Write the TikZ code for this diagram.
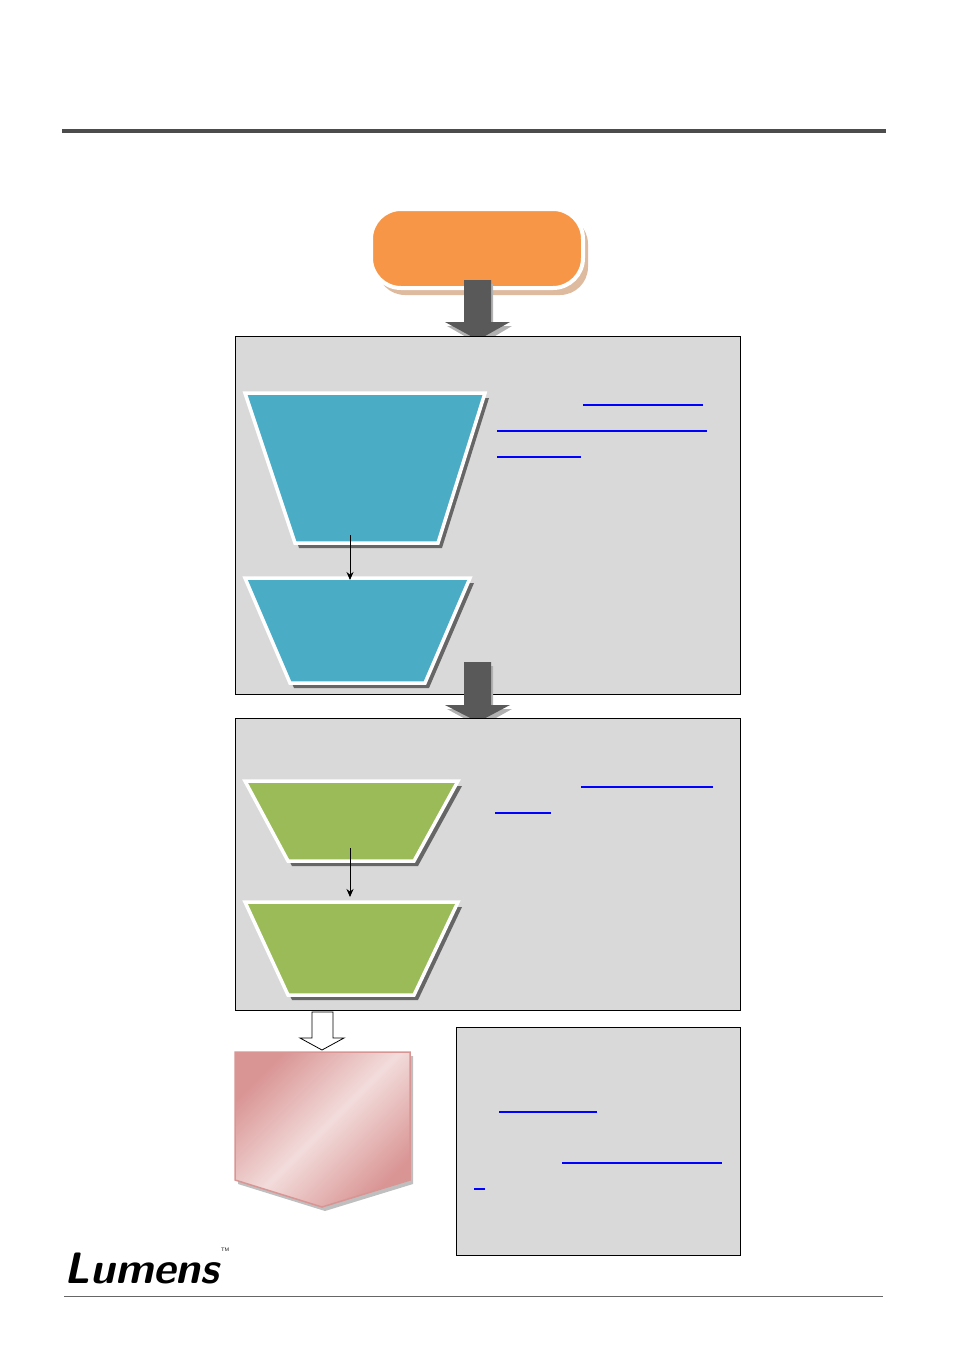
\documentclass[tikz,border=0pt]{standalone}
\usepackage{tikz}
\usetikzlibrary{calc,positioning,arrows.meta,shapes.geometric}
\definecolor{startorange}{HTML}{F79646}
\definecolor{stepblue}{HTML}{4BACC6}
\definecolor{stepgreen}{HTML}{9BBB59}
\definecolor{panelgray}{HTML}{D9D9D9}
\definecolor{linkblue}{HTML}{0000FF}
\definecolor{pinkdark}{HTML}{D99594}
\definecolor{pinklight}{HTML}{F2DCDB}
\tikzset{
  panel/.style={draw=black, fill=panelgray, line width=0.8pt},
  trap/.style={line width=3.5pt, draw=white, line join=miter},
  trapshadow/.style={fill=gray!80!black, draw=none, shift={(4,5)}},
  bigarrow/.style={fill=black!65, draw=none},
  link/.style={draw=linkblue, line width=1.3pt},
  flowarrow/.style={-{Stealth[length=8pt,width=7pt]}, line width=0.9pt}
}
\begin{document}
\begin{tikzpicture}[x=1pt,y=-1pt]
  \useasboundingbox (0,0) rectangle (954,1354);

  % header rule
  \draw[black!70, line width=4pt] (62,131) -- (886,131);

  % start terminal
  \fill[startorange!60!gray!60, rounded corners=28pt] (377,216) rectangle (588,295);
  \draw[line width=4pt, white, fill=startorange, rounded corners=30pt] (371,209) rectangle (583,288);
  \node (start) at (477,248) {};

  % arrow 1
  \fill[gray!60] (447,326) -- (466,326) -- (466,284) -- (493,284) -- (493,326) -- (512,326) -- (480,345) -- cycle;
  \fill[bigarrow] (445,322) -- (464,322) -- (464,280) -- (491,280) -- (491,322) -- (510,322) -- (478,340) -- cycle;

  % panel 1
  \node[panel, minimum width=505pt, minimum height=358pt, anchor=north west] (panelA) at (235,336) {};
  \fill[trapshadow] (245,393) -- (485,393) -- (438,543) -- (295,543) -- cycle;
  \draw[trap, fill=stepblue] (245,393) -- (485,393) -- (438,543) -- (295,543) -- cycle;
  \fill[trapshadow] (245,578) -- (470,578) -- (425,683) -- (290,683) -- cycle;
  \draw[trap, fill=stepblue] (245,578) -- (470,578) -- (425,683) -- (290,683) -- cycle;
  \coordinate (b1) at (350,535);
  \coordinate (b2) at (350,580);
  \draw[flowarrow] (b1) -- (b2);
  \draw[link] (583,405) -- (703,405);
  \draw[link] (497,431) -- (707,431);
  \draw[link] (497,457) -- (581,457);

  % arrow 2
  \fill[gray!60] (447,709) -- (466,709) -- (466,666) -- (493,666) -- (493,709) -- (512,709) -- (480,727) -- cycle;
  \fill[bigarrow] (445,705) -- (464,705) -- (464,662) -- (491,662) -- (491,705) -- (510,705) -- (478,722) -- cycle;

  % panel 2
  \node[panel, minimum width=505pt, minimum height=292pt, anchor=north west] (panelB) at (235,718) {};
  \fill[trapshadow] (245,781) -- (458,781) -- (414,861) -- (288,861) -- cycle;
  \draw[trap, fill=stepgreen] (245,781) -- (458,781) -- (414,861) -- (288,861) -- cycle;
  \fill[trapshadow] (245,902) -- (458,902) -- (414,995) -- (288,995) -- cycle;
  \draw[trap, fill=stepgreen] (245,902) -- (458,902) -- (414,995) -- (288,995) -- cycle;
  \coordinate (g1) at (350,848);
  \coordinate (g2) at (350,897);
  \draw[flowarrow] (g1) -- (g2);
  \draw[link] (581,787) -- (713,787);
  \draw[link] (495,813) -- (551,813);

  % hollow arrow
  \draw[black, fill=white, line width=0.8pt] (312,1012) -- (333,1012) -- (333,1038) -- (344,1038) -- (322,1050) -- (300,1038) -- (312,1038) -- cycle;

  % pink pentagon
  \fill[gray!50] (238,1056) -- (413,1056) -- (413,1184) -- (325,1211) -- (238,1184) -- cycle;
  \shade[left color=pinkdark, right color=pinkdark, middle color=pinklight, shading angle=45]
    (235,1052) -- (410,1052) -- (410,1180) -- (322,1207) -- (235,1180) -- cycle;
  \draw[pinkdark, line width=1.5pt] (235,1052) -- (410,1052) -- (410,1180) -- (322,1207) -- (235,1180) -- cycle;

  % panel 3
  \node[panel, line width=1.2pt, minimum width=284pt, minimum height=228pt, anchor=north west] (panelC) at (456,1027) {};
  \draw[link] (499,1112) -- (597,1112);
  \draw[link] (562,1163) -- (722,1163);
  \draw[link] (474,1189) -- (485,1189);

  % footer
  \node[anchor=west, inner sep=0pt, font=\bfseries\itshape\sffamily, scale=4.4] (logo) at (64,1268) {Lumens};
  \node[anchor=south west, inner sep=0pt, font=\tiny\sffamily, xshift=1pt] (tm) at (logo.north east) {TM};
  \draw[black!60, line width=0.8pt] (64,1296) -- (883,1296);
\end{tikzpicture}
\end{document}
